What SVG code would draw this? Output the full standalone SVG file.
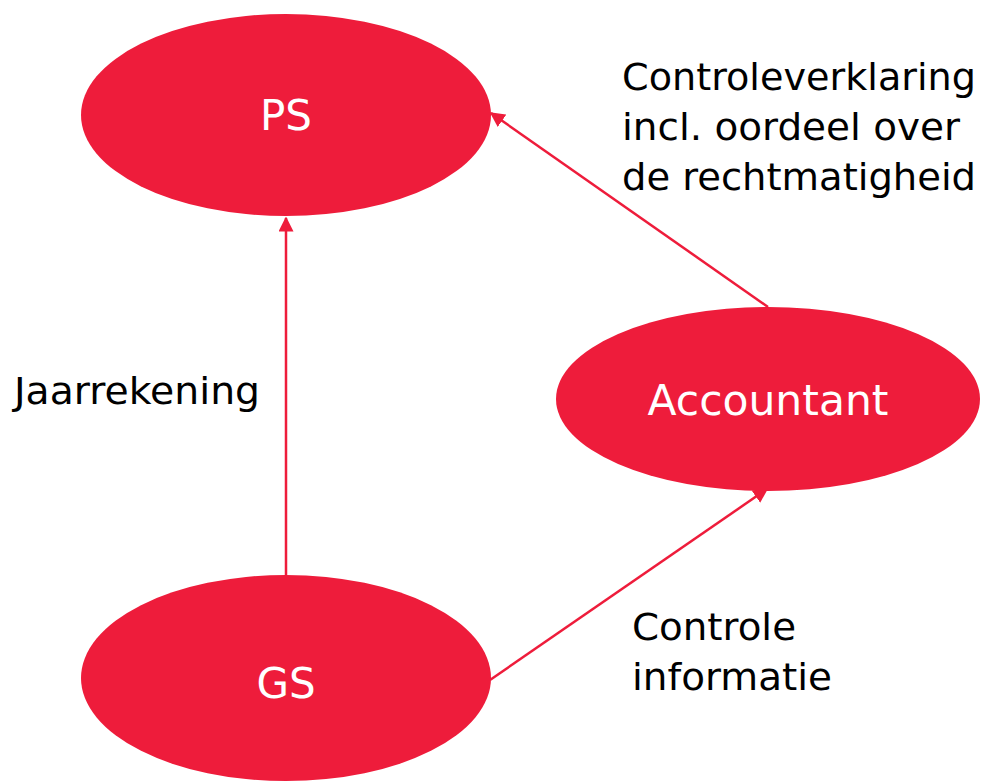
<svg xmlns="http://www.w3.org/2000/svg" width="985" height="783" viewBox="0 0 985 783">
<style>
.node{fill:#EE1C3B;}
.nl{fill:#fff;font-family:"DejaVu Sans",sans-serif;font-size:42px;text-anchor:middle;}
.lbl{fill:#000;font-family:"DejaVu Sans",sans-serif;font-size:38px;}
.edge{stroke:#EE1C3B;stroke-width:2.5;fill:none;marker-end:url(#ah);}
</style>
<defs>
<marker id="ah" viewBox="0 0 10 10" refX="9" refY="5" markerWidth="6" markerHeight="6" orient="auto" markerUnits="strokeWidth">
<path d="M0,0 L10,5 L0,10 z" fill="#EE1C3B"/>
</marker>
</defs>
<rect width="985" height="783" fill="#fff"/>
<g id="connectors">
<line class="edge" x1="286" y1="575" x2="286" y2="218"/>
<line class="edge" x1="768" y1="307" x2="491" y2="113"/>
<line class="edge" x1="490" y1="680" x2="767" y2="489"/>
</g>
<g id="PS">
<ellipse class="node" cx="286" cy="115" rx="205" ry="101"/>
<text class="nl" x="286" y="130">PS</text>
</g>
<g id="Accountant">
<ellipse class="node" cx="768" cy="399" rx="212" ry="92"/>
<text class="nl" x="768" y="415" textLength="241" lengthAdjust="spacingAndGlyphs">Accountant</text>
</g>
<g id="GS">
<ellipse class="node" cx="286" cy="678" rx="205" ry="103"/>
<text class="nl" x="286" y="698">GS</text>
</g>
<g id="labels">
<text class="lbl" x="14" y="404" textLength="246" lengthAdjust="spacingAndGlyphs">Jaarrekening</text>
<text class="lbl" x="622" y="90" textLength="354" lengthAdjust="spacingAndGlyphs">Controleverklaring</text>
<text class="lbl" x="622" y="140" textLength="338" lengthAdjust="spacingAndGlyphs">incl. oordeel over</text>
<text class="lbl" x="622" y="190" textLength="354" lengthAdjust="spacingAndGlyphs">de rechtmatigheid</text>
<text class="lbl" x="632" y="640" textLength="164" lengthAdjust="spacingAndGlyphs">Controle</text>
<text class="lbl" x="632" y="690" textLength="200" lengthAdjust="spacingAndGlyphs">informatie</text>
</g>
</svg>
